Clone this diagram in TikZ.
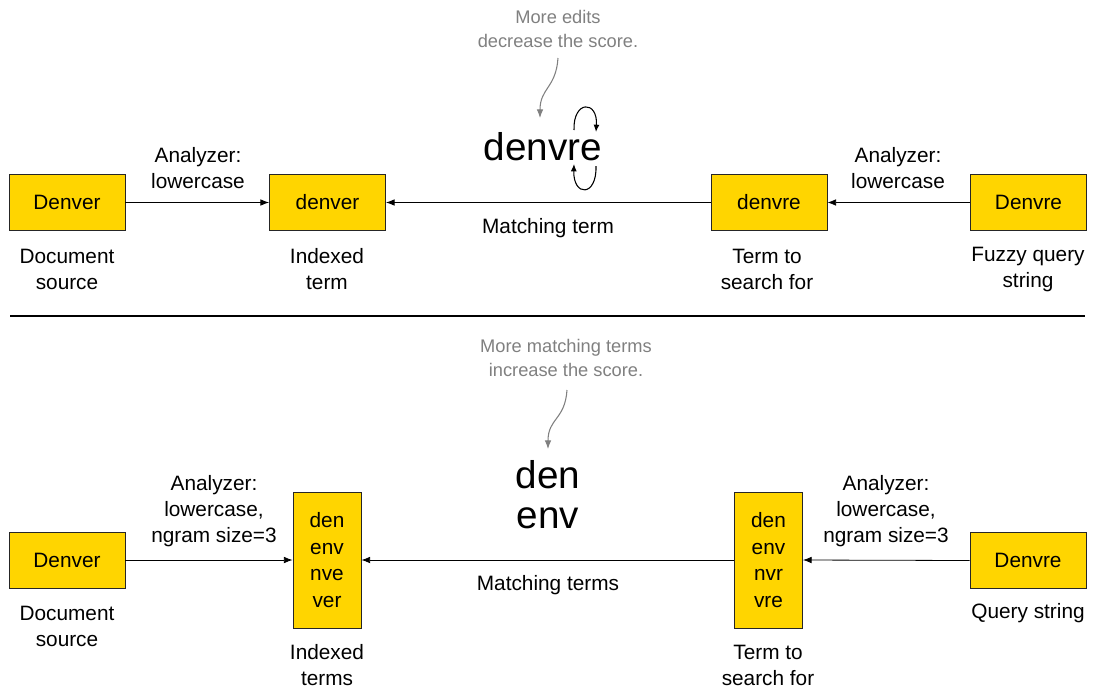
\documentclass[tikz,border=0pt]{standalone}
\usepackage{fontspec}
\setmainfont{Liberation Sans}
\usetikzlibrary{arrows.meta}
\definecolor{boxyellow}{HTML}{FFD500}
\definecolor{notegray}{HTML}{808080}
\begin{document}
\begin{tikzpicture}[x=0.75pt,y=-0.75pt,
  box/.style={draw=black!85,fill=boxyellow,line width=0.7pt,inner sep=0pt,align=center,
    font=\fontsize{15.6}{20}\selectfont},
  smallbox/.style={box,minimum width=87pt,minimum height=42pt},
  tallbox/.style={box,minimum width=51pt,minimum height=102pt},
  lbl/.style={align=center,inner sep=0pt,font=\fontsize{15.6}{19.5}\selectfont},
  note/.style={align=center,inner sep=0pt,text=notegray,font=\fontsize{13.7}{17.5}\selectfont},
  big/.style={align=center,inner sep=0pt,font=\fontsize{29}{30}\selectfont},
  conn/.style={-{Latex[length=6.5pt,width=5pt]},line width=0.6pt},
  noteconn/.style={-{Latex[length=6.5pt,width=5pt]},draw=notegray,line width=0.8pt},
  turn/.style={-{Latex[length=5.5pt,width=4.5pt]},line width=0.8pt}]
\useasboundingbox (0,0) rectangle (1094,689);

% ---------- top row ----------
\node[smallbox] (a1) at (67,202.5) {Denver};
\node[smallbox] (b1) at (327.5,202.5) {denver};
\node[smallbox] (c1) at (769,202.5) {denvre};
\node[smallbox] (d1) at (1028.5,202.5) {Denvre};

\draw[conn] (a1.east) -- (b1.west);
\draw[conn] (c1.west) -- (b1.east);
\draw[conn] (d1.west) -- (c1.east);

\node[lbl] (an1) at (198,168) {Analyzer:\\lowercase};
\node[lbl] (an2) at (898,168) {Analyzer:\\lowercase};
\node[lbl] (mt1) at (548,228) {Matching term};

\node[lbl] (la1) at (67,269) {Document\\source};
\node[lbl] (lb1) at (327,269) {Indexed\\term};
\node[lbl] (lc1) at (767,269) {Term to\\search for};
\node[lbl] (ld1) at (1028,269) {Fuzzy query\\string};

\node[note] (n1) at (558,29) {More edits\\decrease the score.};
\node[big] (w1) at (543,147) {denvre};
\coordinate (n1s) at (558,58);
\coordinate (n1e) at (540,118);
\draw[noteconn] (n1s) .. controls (556,88) and (540,88) .. (n1e);

\coordinate (t1a) at (574,130);
\coordinate (t1b) at (596,132);
\draw[turn] (t1a) .. controls (573,100) and (598,100) .. (t1b);
\coordinate (t2a) at (596,166);
\coordinate (t2b) at (574,164);
\draw[turn] (t2a) .. controls (597,197) and (573,197) .. (t2b);

% ---------- separator ----------
\coordinate (s1) at (10,316);
\coordinate (s2) at (1085,316);
\draw[line width=0.8pt] (s1) -- (s2);

% ---------- bottom row ----------
\node[smallbox] (a2) at (67,560) {Denver};
\node[tallbox] (b2) at (327,560) {den\\env\\nve\\ver};
\node[tallbox] (c2) at (768.5,560) {den\\env\\nvr\\vre};
\node[smallbox] (d2) at (1028,560.5) {Denvre};

\draw[conn] (a2.east) -- (b2.west);
\draw[conn] (c2.west) -- (b2.east);
\draw[conn] (d2.west) -- (c2.east);

\node[lbl] (an3) at (214,511) {Analyzer:\\lowercase,\\ngram size=3};
\node[lbl] (an4) at (886,511) {Analyzer:\\lowercase,\\ngram size=3};
\node[lbl] (mt2) at (548,585) {Matching terms};

\node[lbl] (la2) at (67,626) {Document\\source};
\node[lbl] (lb2) at (327,665) {Indexed\\terms};
\node[lbl] (lc2) at (768,665) {Term to\\search for};
\node[lbl] (ld2) at (1028,613) {Query string};

\node[note] (n2) at (566,358) {More matching terms\\increase the score.};
\node[big] (w2) at (548,494.5) {den\\env};
\coordinate (n2s) at (567,390);
\coordinate (n2e) at (548,449);
\draw[noteconn] (n2s) .. controls (565,420) and (548,418) .. (n2e);
\end{tikzpicture}
\end{document}
